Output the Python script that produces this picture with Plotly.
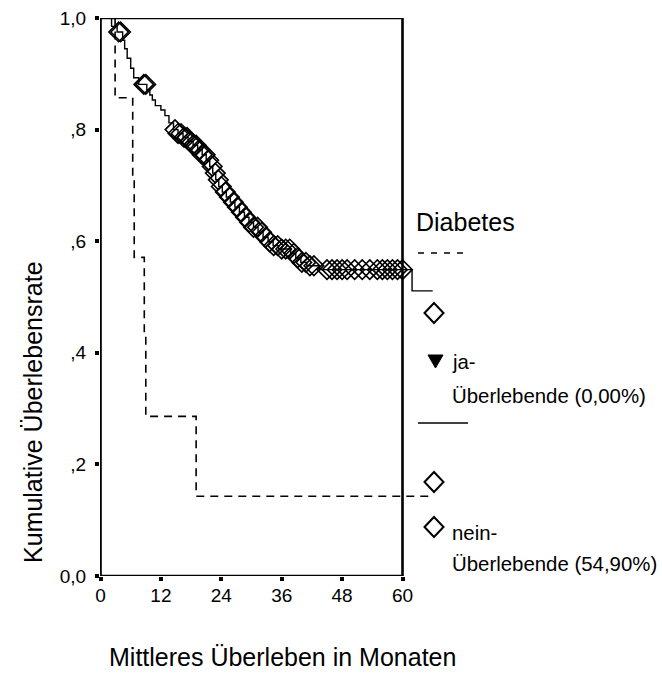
import plotly.graph_objects as go

W, H = 662, 673

# ---------------- data ----------------
# Diabetes = ja  (dashed curve, no censored cases)
ja_time = [0, 2.9, 6.4, 6.7, 8.7, 9.0, 19.0, 66.0]
ja_surv = [1.0, 0.857, 0.714, 0.571, 0.429, 0.286, 0.143, 0.143]

# Diabetes = nein (solid curve)
nein_time = [0, 2.2, 3.3, 4.4, 4.8, 5.3, 6.0, 6.6, 7.6, 9.2, 9.8, 10.3, 10.9, 12.0,
             12.8, 13.6, 14.5, 15.4, 16.4, 17.4, 18.4, 19.3, 20.2, 21.0, 21.7, 22.3,
             22.9, 23.5, 24.2, 25.0, 25.8, 26.7, 27.6, 28.6, 29.5, 30.4, 31.3, 32.3,
             33.3, 34.3, 35.4, 37.8, 38.8, 39.8, 41.0, 43.5, 61.9, 66.0]
nein_surv = [1.0, 0.985, 0.975, 0.960, 0.945, 0.928, 0.910, 0.893, 0.881, 0.871, 0.862,
             0.853, 0.843, 0.835, 0.825, 0.812, 0.800, 0.793, 0.786, 0.779, 0.772, 0.764,
             0.755, 0.745, 0.734, 0.722, 0.710, 0.698, 0.688, 0.679, 0.670, 0.661, 0.652,
             0.643, 0.634, 0.625, 0.616, 0.607, 0.599, 0.592, 0.586, 0.578, 0.570, 0.562,
             0.556, 0.549, 0.511, 0.511]
nein_cens_time = [3.6, 4.0, 8.6, 9.0, 14.8, 15.4, 16.0, 16.6, 17.2, 17.8, 18.4, 19.0,
                  19.6, 20.2, 20.8, 21.5, 22.2, 22.8, 23.4, 24.0, 24.8, 25.6, 26.4, 27.2,
                  28.0, 28.8, 29.6, 30.4, 31.2, 32.0, 32.8, 33.6, 34.4, 35.2, 36.0, 36.8,
                  37.6, 38.4, 39.2, 40.0, 40.8, 41.6, 42.4, 45.0, 46.0, 47.0, 48.0, 49.0,
                  50.5, 52.0, 53.5, 55.0, 56.0, 57.0, 58.0, 59.0, 60.0]

x_ticks = [0, 12, 24, 36, 48, 60]
x_tick_text = ["0", "12", "24", "36", "48", "60"]
y_ticks = [0.0, 0.2, 0.4, 0.6, 0.8, 1.0]
y_tick_text = ["0,0", ",2", ",4", ",6", ",8", "1,0"]


def surv_at(t, times, surv):
    s = surv[0]
    for ti, si in zip(times, surv):
        if ti <= t:
            s = si
    return s


nein_cens_surv = [surv_at(t, nein_time, nein_surv) for t in nein_cens_time]

FONT = "Liberation Sans, Arial, Helvetica, sans-serif"

# pixel -> paper helpers (decoration only)
def px(x):
    return x / W

def py(y):
    return 1 - y / H

# axis geometry
X0_PIX, X60_PIX = 100.5, 402.5
K = (X60_PIX - X0_PIX) / 60.0
DOM_L, DOM_R = 100.0, 662.0
xr0 = -(X0_PIX - DOM_L) / K
xr1 = xr0 + (DOM_R - DOM_L) / K
Y_TOP, Y_BOT = 18.0, 576.0

fig = go.Figure()

fig.add_trace(go.Scatter(
    x=ja_time, y=ja_surv, mode="lines", line_shape="hv",
    line=dict(color="black", width=1.6, dash="8px,6px"),
    showlegend=False, hoverinfo="skip"))

fig.add_trace(go.Scatter(
    x=nein_time, y=nein_surv, mode="lines", line_shape="hv",
    line=dict(color="black", width=1.4),
    showlegend=False, hoverinfo="skip"))

fig.add_trace(go.Scatter(
    x=nein_cens_time, y=nein_cens_surv, mode="markers",
    marker=dict(symbol="diamond-open", size=15, color="black",
                line=dict(color="black", width=1.6)),
    cliponaxis=False, showlegend=False, hoverinfo="skip"))

shapes = []
# frame box
shapes.append(dict(type="rect", xref="x", yref="y", x0=0, x1=60, y0=0, y1=1,
                   line=dict(color="black", width=2.6), layer="above"))
# legend samples
shapes.append(dict(type="line", xref="paper", yref="paper",
                   x0=px(418), x1=px(468), y0=py(253), y1=py(253),
                   line=dict(color="black", width=1.6, dash="6px,7px")))
shapes.append(dict(type="line", xref="paper", yref="paper",
                   x0=px(418), x1=px(468), y0=py(423), y1=py(423),
                   line=dict(color="black", width=1.6)))


def diamond(cx, cy, hw=9.5, hh=10):
    return dict(type="path", xref="paper", yref="paper",
                path=(f"M {px(cx-hw)},{py(cy)} L {px(cx)},{py(cy-hh)} "
                      f"L {px(cx+hw)},{py(cy)} L {px(cx)},{py(cy+hh)} Z"),
                line=dict(color="black", width=2), fillcolor="white")


shapes.append(diamond(434, 313))
shapes.append(diamond(434, 482))
shapes.append(diamond(434, 527))
shapes.append(dict(type="path", xref="paper", yref="paper",
                   path=f"M {px(428)},{py(355)} L {px(443)},{py(355)} L {px(435.5)},{py(368)} Z",
                   line=dict(color="black", width=1), fillcolor="black"))

annotations = []


def text(x, y, s, size):
    annotations.append(dict(x=px(x), y=py(y), xref="paper", yref="paper", text=s,
                            showarrow=False, xanchor="left", yanchor="middle",
                            font=dict(family=FONT, size=size, color="black")))


text(414, 222, "Diabetes", 25)
text(450, 362, "ja-", 20.4)
text(450, 396, "Überlebende (0,00%)", 20.4)
text(450, 533, "nein-", 20.4)
text(450, 564, "Überlebende (54,90%)", 20.4)

# axis titles
annotations.append(dict(x=px(282), y=py(657), xref="paper", yref="paper",
                        text="Mittleres Überleben in Monaten", showarrow=False,
                        xanchor="center", yanchor="middle",
                        font=dict(family=FONT, size=25, color="black")))
annotations.append(dict(x=px(33), y=py(412), xref="paper", yref="paper",
                        text="Kumulative Überlebensrate", showarrow=False, textangle=-90,
                        xanchor="center", yanchor="middle",
                        font=dict(family=FONT, size=25, color="black")))

fig.update_layout(
    width=W, height=H, margin=dict(l=0, r=0, t=0, b=0, autoexpand=False),
    paper_bgcolor="white", plot_bgcolor="white",
    shapes=shapes, annotations=annotations, showlegend=False,
    xaxis=dict(domain=[DOM_L / W, DOM_R / W], range=[xr0, xr1],
               tickvals=x_ticks, ticktext=x_tick_text, ticks="outside",
               ticklen=4, tickwidth=4, tickcolor="black", showgrid=False,
               zeroline=False, showline=False, ticklabelstandoff=-2,
               tickfont=dict(family=FONT, size=19, color="black")),
    yaxis=dict(domain=[1 - Y_BOT / H, 1 - Y_TOP / H], range=[0, 1],
               tickvals=y_ticks, ticktext=y_tick_text, ticks="outside",
               ticklen=4, tickwidth=4, tickcolor="black", showgrid=False,
               zeroline=False, showline=False, ticklabelstandoff=5,
               tickfont=dict(family=FONT, size=19, color="black")),
)

fig.write_html("out.html")
